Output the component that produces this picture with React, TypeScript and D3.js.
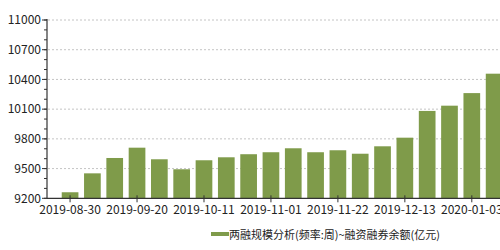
import React from "react";
import * as d3 from "d3";

const dates = [
  "2019-08-30", "2019-09-06", "2019-09-13", "2019-09-20", "2019-09-27",
  "2019-10-04", "2019-10-11", "2019-10-18", "2019-10-25", "2019-11-01",
  "2019-11-08", "2019-11-15", "2019-11-22", "2019-11-29", "2019-12-06",
  "2019-12-13", "2019-12-20", "2019-12-27", "2020-01-03", "2020-01-10",
];
const balance = [
  9261, 9452, 9607, 9711, 9594, 9493, 9584, 9614, 9645, 9665,
  9705, 9665, 9685, 9650, 9725, 9812, 10082, 10135, 10262, 10458,
];
const xTickLabels = ["2019-08-30", "2019-09-20", "2019-10-11", "2019-11-01", "2019-11-22", "2019-12-13", "2020-01-03"];
const yTicks = [9200, 9500, 9800, 10100, 10400, 10700, 11000];
const yMinorTicks = d3.range(9200, 11001, 100);
const legendLabel = "两融规模分析(频率:周)~融资融券余额(亿元)";

const W = 500, H = 250;
const axisX = 47;
const FONT = "'Noto Sans CJK SC', 'Noto Sans', sans-serif";
const BAR = "#7f9b4a";

export default function App() {
  const y = d3.scaleLinear().domain([9200, 11000]).range([198.3, 20]);
  const x = d3.scaleBand<string>().domain(dates).range([axisX, 517.2]).paddingInner(0.252).paddingOuter(0.66);
  const bw = x.bandwidth();
  const y0 = y(9200);
  return (
    <svg width={W} height={H} style={{ position: "absolute", left: 0, top: 0, background: "#fff" }} fontFamily={FONT}>
      {yTicks.slice(1).map((t) => (
        <line key={"g" + t} x1={axisX + 1} x2={W} y1={y(t)} y2={y(t)} stroke="#c4c4c4" strokeDasharray="2,2" strokeWidth={1} />
      ))}
      {dates.map((d, i) => (
        <rect key={d} x={x(d)} y={y(balance[i])} width={bw} height={y0 - y(balance[i])} fill={BAR} />
      ))}
      <line x1={axisX} x2={axisX} y1={y(11000) - 1} y2={y0} stroke="#333" strokeWidth={1.2} />
      <line x1={axisX} x2={W} y1={y0} y2={y0} stroke="#333" strokeWidth={1.2} />
      {yMinorTicks.map((t) => (
        <line key={"m" + t} x1={axisX - 3} x2={axisX} y1={y(t)} y2={y(t)} stroke="#333" strokeWidth={1} />
      ))}
      {yTicks.map((t) => (
        <g key={"y" + t}>
          <line x1={axisX - 5} x2={axisX} y1={y(t)} y2={y(t)} stroke="#333" strokeWidth={1} />
          <text x={axisX - 6} y={y(t)} dy="0.35em" textAnchor="end" fontSize={12} fill="#222">{t}</text>
        </g>
      ))}
      {xTickLabels.map((d) => {
        const cx = (x(d) ?? 0) + bw / 2;
        return (
          <g key={"x" + d}>
            <line x1={cx} x2={cx} y1={y0 - 3} y2={y0 + 4} stroke="#333" strokeWidth={1} />
            <text x={cx} y={214} textAnchor="middle" fontSize={12} fill="#222">{d}</text>
          </g>
        );
      })}
      <rect x={211} y={232} width={18} height={4} fill={BAR} />
      <text x={229} y={235} dy="0.35em" fontSize={11} fill="#222">{legendLabel}</text>
    </svg>
  );
}
